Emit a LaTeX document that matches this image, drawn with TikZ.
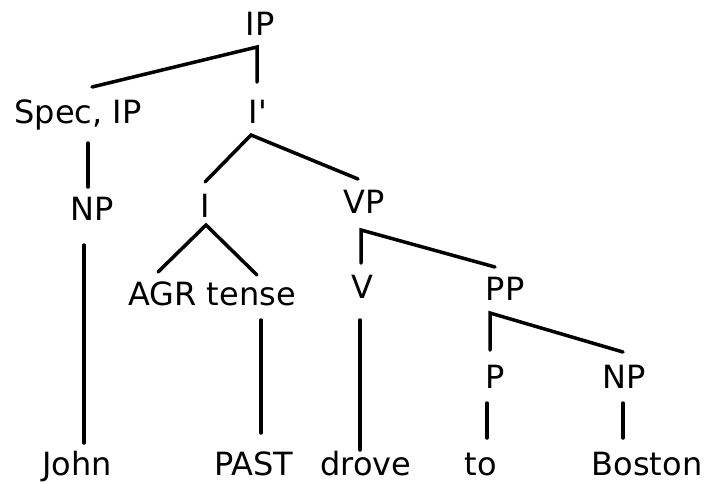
\documentclass[tikz,border=0pt]{standalone}
\usepackage{fontspec}
\setmainfont{DejaVu Sans}
\begin{document}
\begin{tikzpicture}[x=1pt,y=-1pt,
  lbl/.style={inner sep=0pt, anchor=base, font=\fontsize{32}{36}\selectfont},
  br/.style={line width=3.5pt, line cap=round, line join=miter}]
\useasboundingbox (0,0) rectangle (709,483);
% labels
\node[lbl] (ip) at (260,35) {IP};
\node[lbl] (spec) at (78,123) {Spec, IP};
\node[lbl] (ibar) at (258,123) {I\textquotesingle};
\node[lbl] (np1) at (92,220) {NP};
\node[lbl] (i) at (205,217) {I};
\node[lbl] (vp) at (364,213) {VP};
\node[lbl] (agr) at (212,305) {AGR tense};
\node[lbl] (v) at (362,298) {V};
\node[lbl] (pp) at (505,300) {PP};
\node[lbl] (p) at (495,388) {P};
\node[lbl] (np2) at (624,388) {NP};
\node[lbl] (john) at (77,475) {John};
\node[lbl] (past) at (254,475) {PAST};
\node[lbl] (drove) at (366,475) {drove};
\node[lbl] (to) at (481,475) {to};
\node[lbl] (boston) at (647,475) {Boston};
% branch points
\coordinate (ipA) at (257,47);
\coordinate (ipL) at (92,87);
\coordinate (ipR) at (257,82);
\coordinate (specB) at (88,143);
\coordinate (np1T) at (88,187);
\coordinate (ibA) at (251,135);
\coordinate (ibL) at (205,182);
\coordinate (ibR) at (358,179);
\coordinate (np1B) at (84,245);
\coordinate (johnT) at (84,443);
\coordinate (iA) at (206,225);
\coordinate (iL) at (158,272);
\coordinate (iR) at (257,275);
\coordinate (tenseB) at (261,320);
\coordinate (pastT) at (261,433);
\coordinate (vpA) at (361,230);
\coordinate (vpL) at (361,263);
\coordinate (vpR) at (495,267);
\coordinate (vB) at (360,320);
\coordinate (droveT) at (360,450);
\coordinate (ppA) at (490,313);
\coordinate (ppL) at (490,350);
\coordinate (ppR) at (623,352);
\coordinate (pB) at (487,403);
\coordinate (toT) at (487,438);
\coordinate (np2B) at (623,403);
\coordinate (bostonT) at (623,438);
% branches
\draw[br] (ipL) -- (ipA) -- (ipR);
\draw[br] (specB) -- (np1T);
\draw[br] (ibL) -- (ibA) -- (ibR);
\draw[br] (np1B) -- (johnT);
\draw[br] (iL) -- (iA) -- (iR);
\draw[br] (tenseB) -- (pastT);
\draw[br] (vpL) -- (vpA) -- (vpR);
\draw[br] (vB) -- (droveT);
\draw[br] (ppL) -- (ppA) -- (ppR);
\draw[br] (pB) -- (toT);
\draw[br] (np2B) -- (bostonT);
\end{tikzpicture}
\end{document}
